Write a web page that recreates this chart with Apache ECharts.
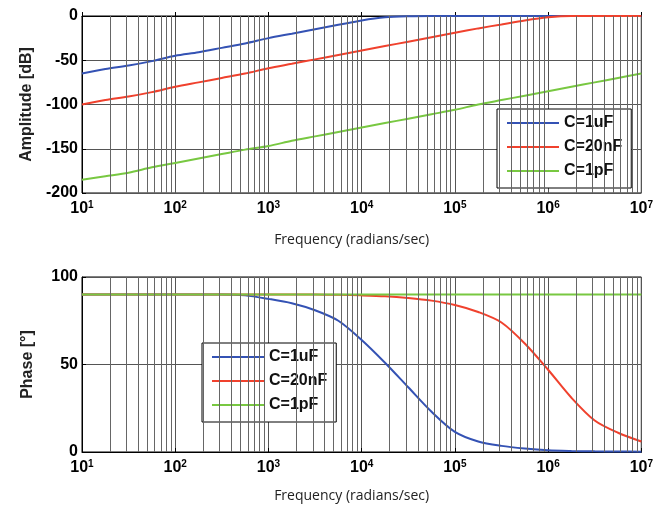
<!DOCTYPE html>
<html>
<head>
<meta charset="utf-8">
<script src="https://cdn.jsdelivr.net/npm/echarts@6/dist/echarts.min.js"></script>
<style>
  html, body { margin: 0; padding: 0; background: #fff; }
  #main { width: 656px; height: 511px; }
</style>
</head>
<body>
<div id="main"></div>
<script>
// frequency points (rad/s), 4 per decade
var freq = [10, 17.8, 31.6, 56.2, 100, 178, 316, 562, 1000, 1780, 3160, 5620,
    10000, 17800, 31600, 56200, 100000, 178000, 316000, 562000,
    1000000, 1780000, 3160000, 5620000, 10000000];

var names = ['C=1uF', 'C=20nF', 'C=1pF'];
var colors = ['#3452b4', '#f0412d', '#78c841'];

// amplitude [dB]
var amp1uF = [-65, -60, -56, -51, -45, -41, -36, -31, -25, -20, -15, -10,
    -5, -1.5, -0.3, 0, 0, 0, 0, 0, 0, 0, 0, 0, 0];
var amp20nF = [-100, -95, -91, -86, -80, -75, -70, -65, -59, -54, -49, -44,
    -39, -34, -29, -24, -19, -14, -9.5, -5, -1.5, 0, 0, 0, 0];
var amp1pF = [-185, -181, -177, -171, -166, -161, -156, -151, -147, -141, -136, -131,
    -126, -121, -116, -111, -106, -100, -95, -90, -85, -80, -75, -70, -65];

// phase [deg]
var ph1uF = [90, 90, 90, 90, 90, 90, 90, 89.5, 87.5, 85, 81, 75,
    64, 51, 37, 23, 11.5, 6, 3.5, 2, 1, 0.6, 0.4, 0.3, 0.2];
var ph20nF = [90, 90, 90, 90, 90, 90, 90, 90, 90, 90, 90, 89.8,
    89.5, 89, 88, 86.5, 84, 80, 74, 62, 47, 31, 18, 11, 6];
var ph1pF = [90, 90, 90, 90, 90, 90, 90, 90, 90, 90, 90, 90,
    90, 90, 90, 90, 90, 90, 90, 90, 90, 90, 90, 90, 90];

// minor log grid lines
var decades = [10, 100, 1000, 10000, 100000, 1000000];
var mantissas = [2, 3, 4, 5, 6, 7, 8, 9];

function pairs(ys) {
    return freq.map(function (f, i) { return [f, ys[i]]; });
}

var minorLines = [];
decades.forEach(function (d) {
    mantissas.forEach(function (m) { minorLines.push({ xAxis: m * d }); });
});

var boldFont = 'Liberation Sans';

function xAxisOpt(idx, gap) {
    return {
        type: 'log',
        logBase: 10,
        gridIndex: idx,
        min: 10,
        max: 10000000,
        name: 'Frequency (radians/sec)',
        nameLocation: 'middle',
        nameGap: gap,
        nameTextStyle: { fontFamily: 'Open Sans', fontSize: 14, color: '#222', padding: [0, 20, 0, 0] },
        axisLine: { lineStyle: { color: '#000', width: 1 } },
        axisTick: { inside: true, length: 4, lineStyle: { color: '#000' } },
        splitLine: { show: true, lineStyle: { color: '#555', width: 1 } },
        axisLabel: {
            margin: 7,
            formatter: function (v) {
                var e = Math.round(Math.log10(v));
                return '{b|10}{s|' + e + '}';
            },
            rich: {
                b: { fontFamily: boldFont, fontWeight: 'bold', fontSize: 16, color: '#000', lineHeight: 18 },
                s: { fontFamily: boldFont, fontWeight: 'bold', fontSize: 10, color: '#000', verticalAlign: 'top', lineHeight: 8 }
            }
        }
    };
}

function yAxisOpt(idx, min, max, name, gap) {
    return {
        type: 'value',
        gridIndex: idx,
        min: min,
        max: max,
        interval: 50,
        name: name,
        nameLocation: 'middle',
        nameGap: gap,
        nameTextStyle: { fontFamily: boldFont, fontWeight: 'bold', fontSize: 16, color: '#222' },
        axisLine: { show: true, lineStyle: { color: '#000', width: 1 } },
        axisTick: { show: true, inside: true, length: 4, lineStyle: { color: '#000' } },
        splitLine: { show: true, lineStyle: { color: '#555', width: 1 } },
        axisLabel: { margin: 4, fontFamily: boldFont, fontWeight: 'bold', fontSize: 16, color: '#000' }
    };
}

function legendOpt(left, top) {
    return {
        data: names,
        orient: 'vertical',
        left: left,
        top: top,
        icon: 'rect',
        itemWidth: 52,
        itemHeight: 2,
        itemGap: 8,
        padding: [6, 9, 9, 10],
        backgroundColor: '#fff',
        borderColor: '#000',
        borderWidth: 1,
        borderRadius: 0,
        textStyle: { fontFamily: boldFont, fontWeight: 'bold', fontSize: 16, lineHeight: 16, color: '#111' }
    };
}

function lineSeries(name, color, data, idx) {
    return {
        name: name,
        type: 'line',
        xAxisIndex: idx,
        yAxisIndex: idx,
        data: pairs(data),
        symbol: 'none',
        smooth: 0.3,
        z: 3,
        color: color,
        lineStyle: { color: color, width: 2 }
    };
}

function gridLineSeries(idx) {
    return {
        type: 'line',
        xAxisIndex: idx,
        yAxisIndex: idx,
        data: [],
        z: 1,
        silent: true,
        markLine: {
            silent: true,
            symbol: 'none',
            label: { show: false },
            lineStyle: { color: '#666', width: 1, type: 'solid' },
            data: minorLines
        }
    };
}

var myChart = echarts.init(document.getElementById('main'));
var option = {
    animation: false,
    backgroundColor: '#fff',
    grid: [
        { left: 82, top: 16, width: 565, height: 177, show: true, borderColor: '#000', borderWidth: 1, backgroundColor: '#fff' },
        { left: 82, top: 277, width: 565, height: 175, show: true, borderColor: '#000', borderWidth: 1, backgroundColor: '#fff' }
    ],
    legend: [legendOpt(497, 109), legendOpt(202, 343)],
    xAxis: [xAxisOpt(0, 40), xAxisOpt(1, 37)],
    yAxis: [
        yAxisOpt(0, -200, 0, 'Amplitude [dB]', 46),
        yAxisOpt(1, 0, 100, 'Phase [°]', 46)
    ],
    series: [
        gridLineSeries(0),
        gridLineSeries(1),
        lineSeries(names[0], colors[0], amp1uF, 0),
        lineSeries(names[1], colors[1], amp20nF, 0),
        lineSeries(names[2], colors[2], amp1pF, 0),
        lineSeries(names[0], colors[0], ph1uF, 1),
        lineSeries(names[1], colors[1], ph20nF, 1),
        lineSeries(names[2], colors[2], ph1pF, 1)
    ]
};
myChart.setOption(option);
window.onresize = function () {
    myChart.resize();
};
</script>
</body>
</html>
